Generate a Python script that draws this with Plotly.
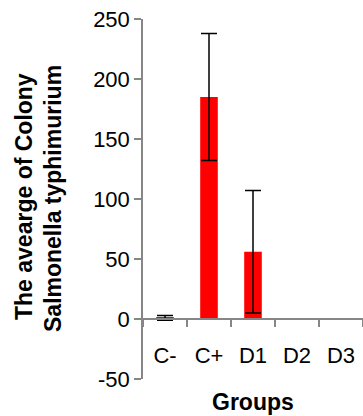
import plotly.graph_objects as go

categories = ["C-", "C+", "D1", "D2", "D3"]
means = [1, 185, 56, 0, 0]
errors = [2, 53, 51, 0, 0]
ytick_vals = [-50, 0, 50, 100, 150, 200, 250]
ytick_text = ["-50", "0", "50", "100", "150", "200", "250"]
title_line1 = "The avearge of Colony"
title_line2 = "Salmonella typhimurium"
x_title = "Groups"

W, H = 363, 416
ml, mr, mt, mb = 143, 0, 19, 37
ph = H - mt - mb
ymin, ymax = -50, 250
zero_frac = (0 - ymin) / (ymax - ymin)

font = "Liberation Sans, Arial, sans-serif"

fig = go.Figure(go.Bar(
    x=categories, y=means,
    marker=dict(color="#FF0000", line=dict(width=0)),
    width=0.4,
    error_y=dict(type="data", array=errors, visible=True,
                 color="black", thickness=1.5, width=8),
))

fig.update_layout(
    width=W, height=H,
    margin=dict(l=ml, r=mr, t=mt, b=mb),
    plot_bgcolor="white", paper_bgcolor="white",
    showlegend=False,
    font=dict(family=font, size=22, color="black"),
    xaxis=dict(
        anchor="free", position=zero_frac,
        showline=True, linecolor="#868686", linewidth=1.5,
        ticks="outside", ticklen=7, tickcolor="#868686", tickwidth=1.5,
        tickson="boundaries",
        showgrid=False, zeroline=False,
        tickfont=dict(size=22, family=font),
        ticklabelstandoff=17,
    ),
    yaxis=dict(
        range=[ymin, ymax],
        tickvals=ytick_vals, ticktext=ytick_text,
        showline=True, linecolor="#868686", linewidth=1.5,
        ticks="outside", ticklen=7, tickcolor="#868686", tickwidth=1.5,
        showgrid=False, zeroline=False,
        tickfont=dict(size=22, family=font),
    ),
)

def px_to_xpaper(px):
    return (px - ml) / (W - ml - mr)

def py_to_ypaper(py):
    return (H - mb - py) / ph

fig.add_annotation(text="<b>%s</b>" % title_line1, textangle=-90,
                   xref="paper", yref="paper",
                   x=px_to_xpaper(24), y=py_to_ypaper(197),
                   xanchor="center", yanchor="middle", showarrow=False,
                   font=dict(size=23, family=font))
fig.add_annotation(text="<b>%s</b>" % title_line2, textangle=-90,
                   xref="paper", yref="paper",
                   x=px_to_xpaper(53), y=py_to_ypaper(199),
                   xanchor="center", yanchor="middle", showarrow=False,
                   font=dict(size=23, family=font))
fig.add_annotation(text="<b>%s</b>" % x_title,
                   xref="paper", yref="paper",
                   x=px_to_xpaper(253), y=py_to_ypaper(402),
                   xanchor="center", yanchor="middle", showarrow=False,
                   font=dict(size=23, family=font))

fig.write_html("out.html", config={"displayModeBar": False},
               post_script="document.body.style.margin='0';")
